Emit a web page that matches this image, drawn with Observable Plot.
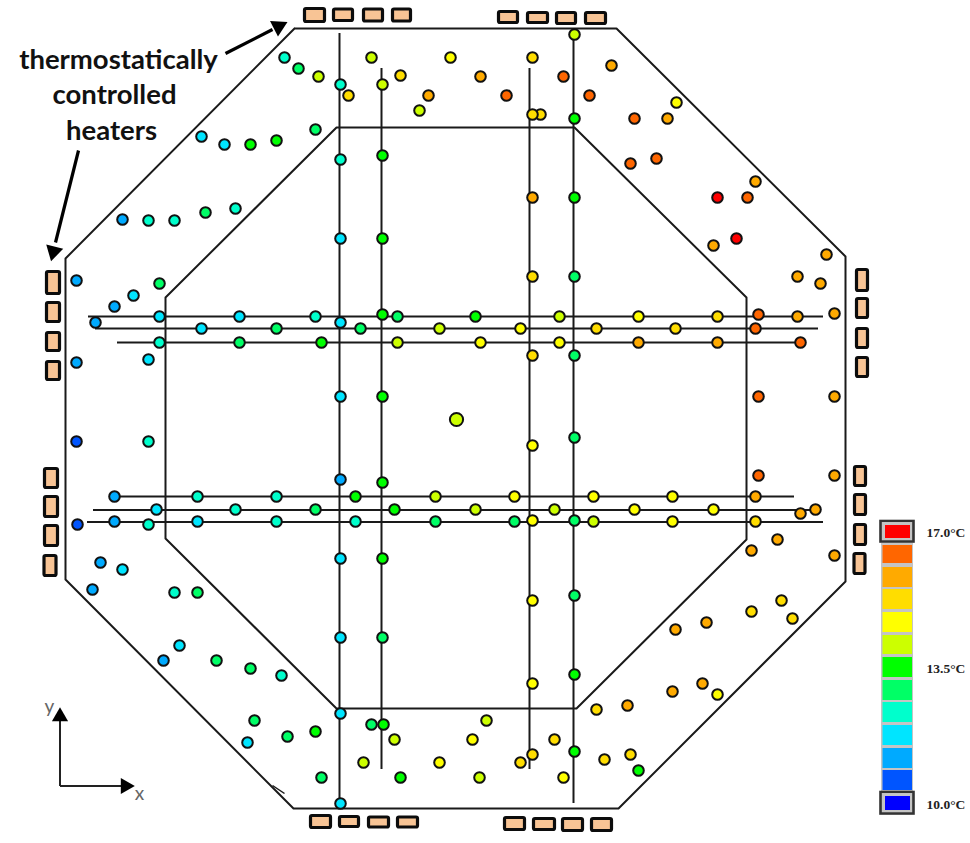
<!DOCTYPE html>
<html><head><meta charset="utf-8">
<style>html,body{margin:0;padding:0;background:#fff}svg{display:block}</style>
<script src="https://cdn.jsdelivr.net/npm/d3@7"></script>
<script src="https://cdn.jsdelivr.net/npm/@observablehq/plot@0.6"></script>
</head><body><div id="chart"></div>
<script>
// colour levels, 0 = 10.0 °C … 12 = 17.0 °C
const levels = [0,1,2,3,4,5,6,7,8,9,10,11,12];
const levelColors = ["#0000ff","#0055ff","#00aaff","#00e5ff","#00ffcc","#00ff66","#00ff00","#ccff00","#ffff00","#ffdd00","#ffaa00","#ff6600","#ff0000"];
const legendTop =    [796,770,748,725,702,680,657,635,612,589,567,545,525];
const legendBottom = [810,790,768,745,722,700,677,654,632,609,587,563,538];
const legendLabels = [["17.0°C",532],["13.5°C",668],["10.0°C",804]];

const outerWall = [[294,28],[616,28],[845,256],[845,581],[618,808],[293,808],[65,579],[65,258],[294,28]];
const innerWall = [[336,127],[574,127],[746,297],[746,539],[576,708],[336,708],[165,538],[165,297],[336,127]];
const wallTick = [[272,785,284,793]];
const verticalStrings = [[339,33,803],[381,68,769],[529,68,769],[573,34,803]];
const horizontalStrings = [[88,823,316],[95,818,328],[117,805,342],[114,794,496],[93,818,509.5],[87,823,521.5]];

const heatersH = [
 [304.5,324.5,8.5,21.5],[333.5,352.5,9,20.5],[363.5,382.5,9,21],[392.5,410.5,9,21],
 [498.5,517.5,11.5,22.5],[527.5,547.5,12.5,22.5],[556.5,575.5,12.5,23.5],[585.5,605.5,12.5,23.5],
 [310.5,330.5,815.5,827.5],[339.5,358.5,816.5,826.5],[368.5,388.5,817,827],[397.5,417.5,817,827],
 [504.5,524.5,817.5,829.5],[533.5,554.5,818.5,829.5],[562.5,582.5,818.5,830.5],[591.5,611.5,818.5,830.5]];
const heatersV = [
 [46.5,59.5,271.5,293.5],[46.5,59.5,302.5,321.5],[46.5,59.5,332.5,350.5],[46.5,59.5,361.5,379.5],
 [44.5,57.5,468.5,487.5],[44.5,57.5,496.5,516.5],[44.5,57.5,525.5,545.5],[44,56,555.5,575.5],
 [856.5,867.5,269.5,290.5],[856.5,867.5,298.5,317.5],[856.5,867.5,328.5,347.5],[856.5,867.5,357.5,376.5],
 [854.5,865.5,466.5,485.5],[854.5,865.5,494.5,514.5],[854.5,865.5,524.5,544.5],[854,865,553.5,573.5]];

const sensorsUpper = [
 [284,57,4],[298,68,5],[318,76,7],[340,84,4],[348,95,9],[371,57,7],[382,84,7],[400,75,9],[428,95,10],[419,110,7],
 [450,57,8],[480,76,10],[506,95,11],[532,57,9],[540,114,9],[532,114,9],[563,76,11],[574,34,7],[574,118,6],[589,95,11],
 [611,65,10],[634,118,11],[667,118,10],[676,102,8],[630,163,11],[656,158,11],[717,197,12],[747,197,11],[755,181,10],
 [736,238,12],[713,245,10],[826,254,10],[797,276,10],[820,283,10],[834,313,10],
 [201,136,3],[224,144,3],[250,144,6],[276,140,6],[315,129,5],[340,159,4],[382,155,6],
 [122,219,2],[148,220,4],[174,220,4],[205,212,5],[235,208,4],[340,238,3],[382,238,6],[532,197,10],[574,197,6],[532,276,9],[574,276,5],
 [76,280,2],[114,306,2],[133,295,3],[159,283,5]];
const sensorsRow1 = [[95,322,2],[159,316,3],[239,316,3],[315,316,4],[340,322,3],[397,316,5],[382,314,6],[475,316,6],[559,316,7],[638,316,8],[717,316,9],[758,314,11],[797,316,10]];
const sensorsRow2 = [[201,328,3],[276,328,5],[360,328,5],[439,328,7],[520,328,8],[596,328,9],[675,328,9],[755,328,11]];
const sensorsRow3 = [[159,342,4],[239,342,5],[321,342,6],[397,342,7],[480,342,8],[559,342,8],[638,342,10],[717,342,10],[800,342,11]];
const sensorsMiddle = [[76,362,2],[148,359,3],[532,355,9],[574,355,5],[340,396,3],[382,396,6],[532,445,8],[574,437,5],[758,396,11],[834,396,10],[76,441,1],[148,441,4],[340,479,2],[382,482,6],[758,475,11],[834,475,10]];
const sensorsRow4 = [[114,496,2],[197,496,4],[276,496,4],[355,496,6],[435,496,7],[514,496,8],[593,496,8],[672,496,8],[755,496,10]];
const sensorsRow5 = [[156,509,3],[235,509,4],[315,509,5],[394,509,6],[475,509,7],[554,509,7],[634,509,8],[713,509,8],[815,509,10],[800,513,10]];
const sensorsRow6 = [[77,524,1],[114,521,2],[148,524,4],[197,521,3],[276,521,4],[355,521,4],[435,521,5],[514,521,5],[532,520,8],[574,520,5],[593,521,7],[672,521,8],[755,521,9]];
const sensorsLower = [
 [340,558,3],[382,558,6],[532,600,8],[574,595,5],[777,539,10],[751,550,10],[834,555,10],[100,562,2],[122,569,3],[92,589,2],[174,592,4],[197,592,5],
 [340,637,3],[382,637,5],[163,660,2],[179,645,3],[216,660,5],[250,668,5],[281,675,4],[532,683,8],[574,674,6],
 [675,629,10],[706,622,10],[751,611,9],[781,600,9],[792,618,9],[596,709,9],[627,705,10],[672,691,10],[702,683,10],[717,694,8],
 [340,713,3],[371,724,5],[383,724,6],[254,720,5],[247,742,3],[287,736,5],[315,731,6],[394,739,7],[486,720,7],[472,739,8],[554,739,9],
 [321,777,5],[363,762,7],[400,777,6],[439,762,8],[479,777,7],[520,762,9],[532,754,9],[574,751,6],[604,759,9],[630,754,9],[638,770,6],[563,777,8],[340,803,3]];
const sensorCentre = [[456,419,7]];
const sensors = [...sensorsUpper,...sensorsRow1,...sensorsRow2,...sensorsRow3,...sensorsMiddle,...sensorsRow4,...sensorsRow5,...sensorsRow6,...sensorsLower];

const calloutLines = [["thermostatically",118,60],["controlled",114,95],["heaters",111,131]];
const calloutShafts = [[225,53,272,29],[78,150,55,242]];
const calloutHeads = [[278,26,63],[53,251,194]];
const axisLines = [[59.5,785.5,59.5,718],[59.5,785.5,122,785.5]];
const axisHeads = [[59.5,716,0],[125,785.5,90]];
const axisNames = [["x",139,793],["y",49,706]];
const legendFrames = [[880.5,913.5,521,541.5],[880.5,913.5,792,813.5]];

const chart = Plot.plot({
  width:970, height:843, margin:0,
  x:{domain:[0,970],range:[0,970],axis:null},
  y:{domain:[0,843],range:[0,843],axis:null},
  color:{type:"ordinal",domain:levels,range:levelColors},
  style:{background:"#fff"},
  marks:[
    Plot.line(outerWall,{x:d=>d[0],y:d=>d[1],stroke:"#1a1a1a",strokeWidth:2}),
    Plot.line(innerWall,{x:d=>d[0],y:d=>d[1],stroke:"#1a1a1a",strokeWidth:2}),
    Plot.link(wallTick,{x1:d=>d[0],y1:d=>d[1],x2:d=>d[2],y2:d=>d[3],stroke:"#1a1a1a",strokeWidth:1.5}),
    Plot.ruleX(verticalStrings,{x:d=>d[0],y1:d=>d[1],y2:d=>d[2],stroke:"#1a1a1a",strokeWidth:2}),
    Plot.ruleY(horizontalStrings,{y:d=>d[2],x1:d=>d[0],x2:d=>d[1],stroke:"#1a1a1a",strokeWidth:2}),
    Plot.rect([...heatersH,...heatersV],{x1:d=>d[0],x2:d=>d[1],y1:d=>d[2],y2:d=>d[3],fill:"#f8c495",stroke:"#0c0c0c",strokeWidth:3.2,rx:1.5}),
    Plot.dot(sensors,{x:d=>d[0],y:d=>d[1],fill:d=>d[2],r:5.3,stroke:"#111",strokeWidth:2}),
    Plot.dot(sensorCentre,{x:d=>d[0],y:d=>d[1],fill:d=>d[2],r:6.6,stroke:"#111",strokeWidth:2}),
    // callouts
    Plot.link(calloutShafts,{x1:d=>d[0],y1:d=>d[1],x2:d=>d[2],y2:d=>d[3],stroke:"#000",strokeWidth:3.2}),
    Plot.dot(calloutHeads,{x:d=>d[0],y:d=>d[1],rotate:d=>d[2],symbol:"triangle",r:6.5,fill:"#000"}),
    Plot.text(calloutLines,{x:d=>d[1],y:d=>d[2],text:d=>d[0],fontFamily:"Lato",fontWeight:700,fontSize:27.5,fill:"#111"}),
    // axes glyph
    Plot.link(axisLines,{x1:d=>d[0],y1:d=>d[1],x2:d=>d[2],y2:d=>d[3],stroke:"#222",strokeWidth:2}),
    Plot.dot(axisHeads,{x:d=>d[0],y:d=>d[1],rotate:d=>d[2],symbol:"triangle",r:6,fill:"#000"}),
    Plot.text(axisNames,{x:d=>d[1],y:d=>d[2],text:d=>d[0],fontFamily:"Lato",fontSize:19,fill:"#666"}),
    // colour legend
    Plot.rect(levels,{x1:881,x2:913,y1:i=>legendTop[i]-2,y2:i=>legendBottom[i]+2,fill:"#c4c4c4"}),
    Plot.rect(levels.slice(1,12),{x1:882.5,x2:912,y1:i=>legendTop[i],y2:i=>legendBottom[i],fill:i=>i}),
    Plot.rect([0,12],{x1:885,x2:910,y1:i=>legendTop[i],y2:i=>legendBottom[i],fill:i=>i}),
    Plot.rect(legendFrames,{x1:d=>d[0],x2:d=>d[1],y1:d=>d[2],y2:d=>d[3],fill:"none",stroke:"#333",strokeWidth:2.6}),
    Plot.text(legendLabels,{x:926,y:d=>d[1],text:d=>d[0],textAnchor:"start",fontFamily:"Liberation Serif",fontWeight:700,fontSize:13.5,fill:"#222"})
  ]
});
document.getElementById("chart").append(chart);
</script></body></html>
